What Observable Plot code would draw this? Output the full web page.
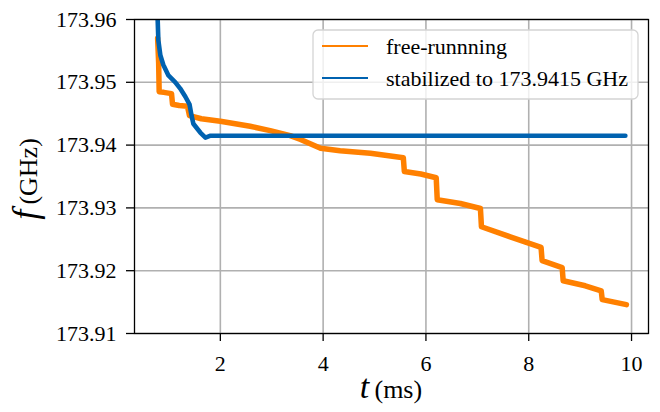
<!DOCTYPE html>
<html>
<head>
<meta charset="utf-8">
<script src="https://cdn.jsdelivr.net/npm/d3@7"></script>
<script src="https://cdn.jsdelivr.net/npm/@observablehq/plot@0.6"></script>
<style>
  html, body { margin: 0; padding: 0; background: #fff; }
  #chart { width: 660px; height: 412px; }
  #chart svg text, #chart svg tspan { font-family: "Liberation Serif", "Times New Roman", serif !important; }
</style>
</head>
<body>
<div id="chart"></div>
<script>
// ---- data ----
const seriesNames = ["free-runnning", "stabilized to 173.9415 GHz"];
const seriesColors = ["#ff8000", "#0062b0"];

// free-running laser frequency (GHz) vs time (ms)
const freeT = [0.78, 0.80, 0.81, 0.90, 1.05, 1.07, 1.20, 1.36, 1.40, 1.63, 2.00, 2.58, 2.97, 3.36, 3.56, 3.95, 4.33, 4.92, 5.56,
               5.58, 5.90, 6.20, 6.22, 6.67, 7.06, 7.08, 7.64, 8.24, 8.26, 8.65, 8.67, 9.10, 9.41, 9.43, 9.90];
const freeF = [173.9570, 173.9530, 173.9485, 173.9484, 173.9482, 173.9465, 173.9463, 173.9462, 173.9447, 173.9442, 173.9438, 173.9430, 173.9423, 173.9415, 173.9409, 173.9395, 173.9391, 173.9387, 173.9380,
               173.9358, 173.9354, 173.9348, 173.9313, 173.9307, 173.9299, 173.9270, 173.9254, 173.9237, 173.9216, 173.9205, 173.9184, 173.9176, 173.9168, 173.9154, 173.9146];

// stabilized laser frequency (GHz) vs time (ms)
const stabT = [0.775, 0.794, 0.833, 0.89, 0.99, 1.125, 1.22, 1.32, 1.40, 1.44, 1.475, 1.61, 1.71, 1.81, 3.0, 5.0, 7.0, 9.88];
const stabF = [173.9614, 173.9567, 173.9543, 173.9528, 173.9511, 173.9500, 173.9490, 173.9477, 173.9465, 173.9447, 173.9434, 173.9420, 173.9412, 173.9415, 173.9415, 173.9415, 173.9415, 173.9415];

const xTicks = [2, 4, 6, 8, 10];
const yTicks = [173.91, 173.92, 173.93, 173.94, 173.95, 173.96];
const xDomain = [0.33, 10.33];
const yDomain = [173.91, 173.96];

const freeData = freeT.map((t, i) => ({t, f: freeF[i]}));
const stabData = stabT.map((t, i) => ({t, f: stabF[i]}));

const serif = "Liberation Serif, Times New Roman, serif";
const W = 660, H = 412, mL = 134, mR = 12, mT = 19, mB = 79;

const chart = Plot.plot({
  width: W, height: H,
  marginLeft: mL, marginRight: mR, marginTop: mT, marginBottom: mB,
  style: {fontFamily: serif, fontSize: "22px", color: "black", background: "white"},
  x: {domain: xDomain},
  y: {domain: yDomain},
  marks: [
    Plot.gridX(xTicks, {stroke: "#b0b0b0", strokeOpacity: 1, strokeWidth: 1.6}),
    Plot.gridY(yTicks, {stroke: "#b0b0b0", strokeOpacity: 1, strokeWidth: 1.6}),
    Plot.line(freeData, {x: "t", y: "f", stroke: seriesColors[0], strokeWidth: 5.5, clip: true}),
    Plot.line(stabData, {x: "t", y: "f", stroke: seriesColors[1], strokeWidth: 4.6, clip: true}),
    Plot.frame({stroke: "black", strokeWidth: 1.3}),
    Plot.axisX({ticks: xTicks, tickSize: 8, tickPadding: 14, tickFormat: d => String(d), label: null, strokeWidth: 1.3, fontSize: 22, fontFamily: serif}),
    Plot.axisY({ticks: yTicks, tickSize: 8, tickPadding: 10, tickFormat: d => d.toFixed(2), label: null, strokeWidth: 1.3, fontSize: 22, fontFamily: serif})
  ]
});
document.getElementById("chart").appendChild(chart);

// ---- axis titles and legend ----
const svg = d3.select(chart);
svg.selectAll("text").style("font-family", serif);
const plotCx = (mL + (W - mR)) / 2;

const xl = svg.append("text")
  .attr("x", plotCx).attr("y", 398)
  .attr("text-anchor", "middle")
  .style("fill", "black");
xl.append("tspan").style("font-style", "italic").style("font-size", "34px").text("t");
xl.append("tspan").style("font-size", "26px").text("\u2009(ms)");

const yl = svg.append("text")
  .attr("transform", `translate(37,179) rotate(-90)`)
  .attr("text-anchor", "middle")
  .style("fill", "black");
yl.append("tspan").style("font-style", "italic").style("font-size", "36px").text("f");
yl.append("tspan").style("font-size", "26px").text("\u2009(GHz)");

// legend
const lg = svg.append("g").attr("text-anchor", "start");
lg.append("rect")
  .attr("x", 313).attr("y", 30).attr("width", 325).attr("height", 69)
  .attr("rx", 5).attr("ry", 5)
  .attr("fill", "white").attr("fill-opacity", 0.8)
  .attr("stroke", "#d4d4d4").attr("stroke-width", 1.3);
seriesNames.forEach((name, i) => {
  const y = 46 + i * 32;
  lg.append("line")
    .attr("x1", 322).attr("x2", 368).attr("y1", y).attr("y2", y)
    .attr("stroke", seriesColors[i]).attr("stroke-width", 2.2);
  lg.append("text")
    .attr("x", 386).attr("y", y + 8)
    .attr("text-anchor", "start")
    .style("font-size", "22px").style("fill", "black")
    .text(name);
});
</script>
</body>
</html>
